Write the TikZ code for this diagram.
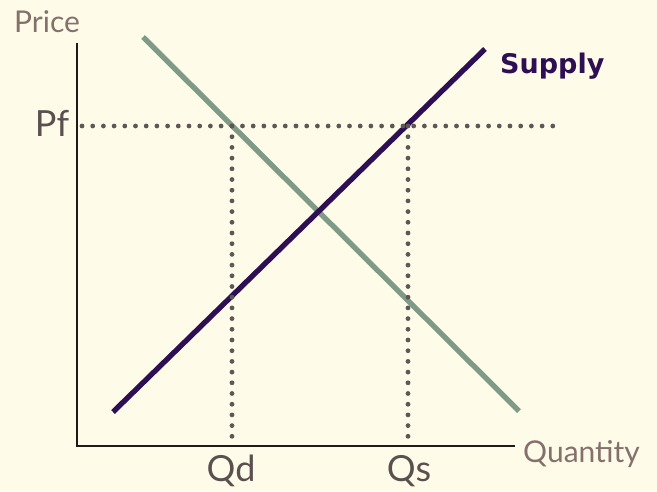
\documentclass[tikz,border=0pt]{standalone}
\usepackage{fontspec}
\setmainfont{Lato}
\newfontfamily\supfont{DejaVu Sans}
\definecolor{bgc}{HTML}{FEFCE9}
\definecolor{axisc}{HTML}{1E1A1A}
\definecolor{labc}{HTML}{85706C}
\definecolor{qc}{HTML}{5A5050}
\definecolor{demc}{HTML}{7F9A87}
\definecolor{supc}{HTML}{2E0F54}
\definecolor{dotc}{HTML}{5F5656}
\begin{document}
\begin{tikzpicture}[x=1pt,y=-1pt,
  axis/.style={draw=axisc,line width=2.8pt},
  curve/.style={line width=5.3pt},
  guide/.style={draw=dotc,line width=4.8pt,line cap=round,dash pattern=on 0pt off 10.7pt},
  axlab/.style={text=labc,font=\fontsize{30}{32}\selectfont,inner sep=0pt},
  qlab/.style={text=qc,font=\fontsize{36}{38}\selectfont,inner sep=0pt}]
\fill[bgc] (0,0) rectangle (657,491);
\useasboundingbox (0,0) rectangle (657,491);
% axes
\coordinate (ytop) at (77,43);
\coordinate (orig) at (77,446);
\coordinate (xend) at (515,446);
\draw[axis] (ytop) -- (orig) -- (xend);
% curves
\coordinate (d1) at (143,37);
\coordinate (d2) at (519,411);
\coordinate (s1) at (113,412);
\coordinate (s2) at (485,49);
\draw[curve,demc] (d1) -- (d2);
\draw[curve,supc] (s1) -- (s2);
% guide lines
\coordinate (pf) at (82,126);
\coordinate (pfend) at (555,126);
\coordinate (dtop) at (232,126);
\coordinate (dbot) at (232,446);
\coordinate (stop) at (408,126);
\coordinate (sbot) at (408,446);
\draw[guide] (pf) -- (pfend);
\draw[guide] (dtop) -- (dbot);
\draw[guide] (stop) -- (sbot);
% labels
\node[axlab] (price) at (47,22) {Price};
\node[axlab,anchor=west] (quantity) at (523,454) {Quantity};
\node[qlab] (pflab) at (52,123) {Pf};
\node[qlab] (qd) at (231,471) {Qd};
\node[qlab] (qs) at (409,471) {Qs};
\node[text=supc,font=\supfont\bfseries\fontsize{27}{30}\selectfont,inner sep=0pt,anchor=west] (suplab) at (500,66) {Supply};
\end{tikzpicture}
\end{document}
